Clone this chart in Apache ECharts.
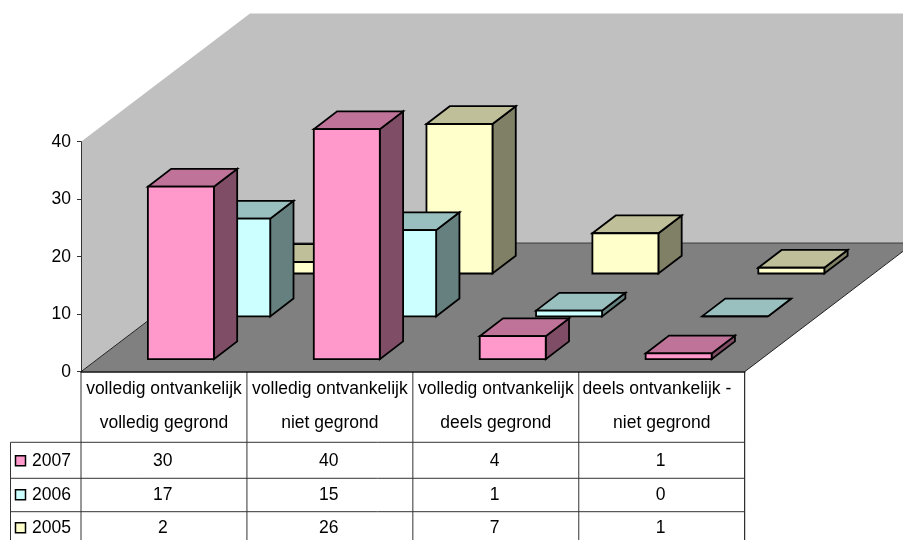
<!DOCTYPE html>
<html><head><meta charset="utf-8">
<style>html,body{margin:0;padding:0;background:#fff}#c{width:903px;height:540px}</style>
<script src="https://cdn.jsdelivr.net/npm/echarts@6/dist/echarts.min.js"></script>
</head><body><div id="c"></div>
<script>
const categories = ['volledig ontvankelijk\nvolledig gegrond','volledig ontvankelijk\nniet gegrond','volledig ontvankelijk\ndeels gegrond','deels ontvankelijk -  \nniet gegrond'];
const years = ['2007','2006','2005'];
const values2007 = [30,40,4,1];
const values2006 = [17,15,1,0];
const values2005 = [2,26,7,1];
const yTicks = {min:0,max:40,interval:10};

const FONT = '"Liberation Sans", Arial, sans-serif';
const FS = 17.5;
const DEPTH_X = 169, DEPTH_Y = 128.5;
const ROWS = 3;
const BAR_W = 66;
const BAR_DX = 23.3, BAR_DY = 17.8;
const palette = {
  '2007':{f:'#FF99CC',t:'#BF7399',s:'#804D66'},
  '2006':{f:'#CCFFFF',t:'#99BFBF',s:'#668080'},
  '2005':{f:'#FFFFCC',t:'#BFBF99',s:'#808066'}
};

function wallsRender(params, api){
  const c = params.coordSys;
  const L=c.x, R=c.x+c.width, T=c.y, B=c.y+c.height;
  const dx=DEPTH_X, dy=DEPTH_Y;
  const poly=(pts,fill)=>({type:'polygon',shape:{points:pts},style:{fill:fill}});
  const ln=(a,b,col,lw)=>({type:'line',shape:{x1:a[0],y1:a[1],x2:b[0],y2:b[1]},style:{stroke:col,lineWidth:lw}});
  return {type:'group',children:[
    poly([[L,T],[L+dx,T-dy+0.3],[R+dx,T-dy+0.3],[R+dx,B-dy],[L+dx,B-dy],[L,B]],'#C0C0C0'),
    poly([[L,B],[L+dx,B-dy],[R+dx,B-dy],[R,B]],'#808080'),
    ln([L,B],[L+dx,B-dy],'#222',1),
    ln([R,B],[R+dx,B-dy],'#222',1),
    ln([L+dx,B-dy],[R+dx,B-dy],'#444',1.2)
  ]};
}

function barRender(year, row){
  const col = palette[year];
  return function(params, api){
    const cat = api.value(0), v = api.value(1);
    const base = api.coord([cat,0]), top = api.coord([cat,v]);
    const stepX = DEPTH_X/ROWS, stepY = DEPTH_Y/ROWS;
    const ox = (stepX-BAR_DX)/2 + stepX*row, oy = (stepY-BAR_DY)/2 + stepY*row;
    const x0 = base[0] + ox - BAR_W/2 + 0.4, x1 = x0 + BAR_W;
    const yb = base[1] - oy, yt = top[1] - oy;
    const st = f=>({fill:f,stroke:'#000',lineWidth:1.8,lineJoin:'miter'});
    const sh = pts=>({type:'polygon',shape:{points:pts}});
    return {type:'group',children:[
      Object.assign(sh([[x1,yt],[x1+BAR_DX,yt-BAR_DY],[x1+BAR_DX,yb-BAR_DY],[x1,yb]]),{style:st(col.s)}),
      Object.assign(sh([[x0,yt],[x0+BAR_DX,yt-BAR_DY],[x1+BAR_DX,yt-BAR_DY],[x1,yt]]),{style:st(col.t)}),
      Object.assign(sh([[x0,yt],[x1,yt],[x1,yb],[x0,yb]]),{style:st(col.f)})
    ]};
  };
}

const seriesValues = {'2007':values2007,'2006':values2006,'2005':values2005};
const rowIndex = {'2007':0,'2006':1,'2005':2};

const GRID_L=81, GRID_R=744.7, AXIS_Y=371.7;
const rowLines=[442.3,478.3,511.7,545];
const rowCenters=[460.5,494.5,527.5];
const LEG_L=10.5, KEY_X=15.5, KEY_S=10, TXT_X=32;
const colW=(GRID_R-GRID_L)/categories.length;
const graphics=[];
const line=(x1,y1,x2,y2,c,w)=>graphics.push({type:'line',silent:true,shape:{x1,y1,x2,y2},style:{stroke:c||'#333',lineWidth:w||1}});
for(let i=0;i<=categories.length;i++){const x=GRID_L+colW*i;line(x,AXIS_Y,x,rowLines[3],i===categories.length?'#000':'#333');}
rowLines.forEach(y=>line(LEG_L,y,GRID_R,y));
line(LEG_L,rowLines[0],LEG_L,rowLines[3]);
years.forEach((y,r)=>{
  graphics.push({type:'rect',shape:{x:KEY_X,y:rowCenters[r]-KEY_S/2+0.3,width:KEY_S,height:KEY_S},style:{fill:palette[y].f,stroke:'#000',lineWidth:1.5}});
  graphics.push({type:'text',style:{x:TXT_X,y:rowCenters[r]+0.5,text:y,font:FS+'px '+FONT,fill:'#000',textAlign:'left',textVerticalAlign:'middle'}});
  seriesValues[y].forEach((v,i)=>{
    graphics.push({type:'text',style:{x:GRID_L+colW*(i+0.5)-1.2,y:rowCenters[r]+0.3,text:String(v),font:FS+'px '+FONT,fill:'#000',textAlign:'center',textVerticalAlign:'middle'}});
  });
});

const option={
  animation:false,
  backgroundColor:'#fff',
  grid:{left:GRID_L,right:903-GRID_R,top:141.7,bottom:540-AXIS_Y},
  xAxis:{type:'category',data:categories,boundaryGap:true,
    axisLine:{show:true,lineStyle:{color:'#111',width:1.6}},
    axisTick:{show:false},
    axisLabel:{show:true,interval:0,margin:0,fontFamily:'Liberation Sans',fontSize:FS,color:'#000',lineHeight:34.5,verticalAlign:'top'},
    z:5},
  yAxis:{type:'value',min:yTicks.min,max:yTicks.max,interval:yTicks.interval,
    axisLine:{show:true,lineStyle:{color:'#333',width:1}},
    axisTick:{show:true,length:4,lineStyle:{color:'#333',width:1}},
    splitLine:{show:false},
    axisLabel:{margin:10,fontFamily:'Liberation Sans',fontSize:FS,color:'#000'},
    z:5},
  tooltip:{show:false},
  graphic:{elements:graphics},
  series:[
    {type:'custom',name:'walls',coordinateSystem:'cartesian2d',data:[[0,0]],renderItem:wallsRender,silent:true,clip:false,z:1},
    ...['2005','2006','2007'].map((y,k)=>({
      type:'custom',name:y,coordinateSystem:'cartesian2d',clip:false,z:2+k,
      data:seriesValues[y].map((v,i)=>[i,v]),
      encode:{x:0,y:1},
      renderItem:barRender(y,rowIndex[y])
    }))
  ]
};
const chart=echarts.init(document.getElementById('c'),null,{renderer:'canvas'});
chart.setOption(option);
</script></body></html>
